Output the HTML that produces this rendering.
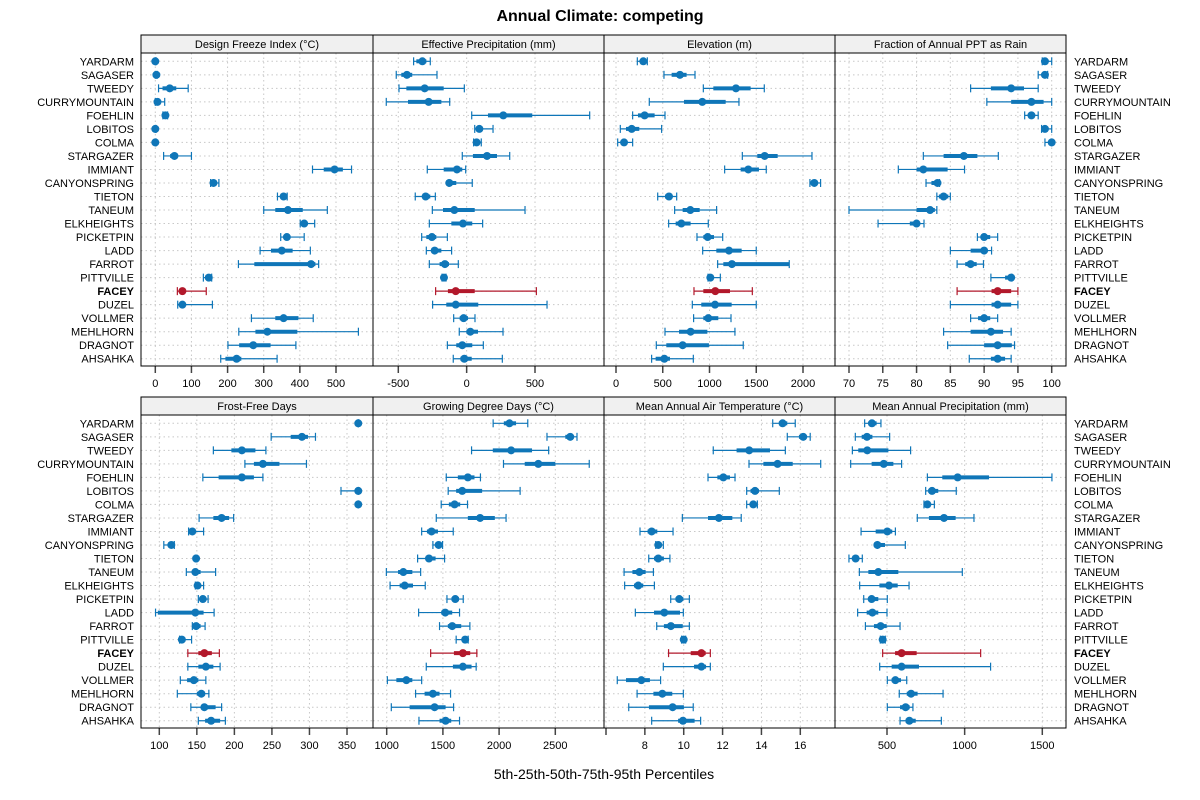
<!DOCTYPE html>
<html><head><meta charset="utf-8"><style>
html,body{margin:0;padding:0;background:#fff;}
svg{display:block;font-family:"Liberation Sans",sans-serif;}
</style></head><body>
<svg id="chart" width="1200" height="800" viewBox="0 0 1200 800" xmlns="http://www.w3.org/2000/svg">
<text x="600" y="21" text-anchor="middle" font-size="16" font-weight="bold">Annual Climate: competing</text>
<text x="604" y="779" text-anchor="middle" font-size="14">5th-25th-50th-75th-95th Percentiles</text>
</svg>
<script>
const categories = ["YARDARM","SAGASER","TWEEDY","CURRYMOUNTAIN","FOEHLIN","LOBITOS","COLMA","STARGAZER","IMMIANT","CANYONSPRING","TIETON","TANEUM","ELKHEIGHTS","PICKETPIN","LADD","FARROT","PITTVILLE","FACEY","DUZEL","VOLLMER","MEHLHORN","DRAGNOT","AHSAHKA"];
const highlight = "FACEY";
const freezeIndex = [[0,0,0,1,2],[0,1,3,4,5],[9,20,40,58,91],[0,3,6,11,26],[21,23,28,31,34],[0,0,0,1,2],[0,0,0,1,2],[23,41,53,60,100],[435,466,496,519,543],[153,157,161,168,176],[338,346,355,360,365],[300,332,367,408,476],[401,406,412,421,441],[347,355,364,373,412],[290,320,350,380,429],[230,274,431,443,452],[133,138,148,151,156],[61,66,75,83,141],[62,67,75,83,158],[266,332,355,396,437],[231,277,310,393,562],[201,232,271,319,389],[181,194,225,238,337]];
const effPrecip = [[-388,-368,-324,-295,-266],[-515,-478,-437,-398,-217],[-495,-441,-307,-168,-17],[-588,-429,-278,-185,-124],[37,156,268,480,900],[59,76,93,115,193],[51,61,73,85,107],[-32,46,149,222,315],[-288,-168,-71,-32,-7],[-129,-129,-127,-76,41],[-376,-320,-300,-266,-229],[-251,-173,-90,59,427],[-273,-112,-27,41,117],[-329,-295,-254,-222,-141],[-295,-259,-234,-185,-110],[-273,-198,-159,-129,-61],[-180,-173,-166,-159,-151],[-227,-137,-80,59,510],[-249,-149,-80,85,588],[-95,-51,-22,10,61],[-54,-2,27,83,266],[-141,-76,-32,41,122],[-98,-46,-17,37,261]];
const elevation = [[228,271,292,314,335],[513,595,684,755,845],[934,1041,1283,1440,1586],[356,727,923,1173,1315],[178,235,306,413,524],[46,107,168,249,488],[18,50,86,121,178],[1351,1511,1590,1729,2096],[1162,1333,1415,1529,1607],[2074,2099,2121,2138,2188],[446,524,567,602,649],[627,713,795,895,1076],[563,638,699,798,987],[866,934,980,1048,1141],[927,1073,1208,1344,1500],[1087,1148,1240,1850,1853],[984,998,1009,1019,1116],[834,934,1062,1219,1458],[816,912,1059,1237,1500],[830,934,987,1094,1230],[524,674,798,977,1272],[431,538,713,994,1361],[381,424,517,577,827]];
const fracRain = [[98.6,98.8,99.0,99.5,100],[98.0,98.6,99.0,99.2,99.4],[88.0,91.0,94.0,95.9,98.0],[90.4,94.0,97.0,98.8,100],[96.0,96.5,97.0,97.4,98.0],[98.5,98.7,99.0,99.5,100],[99.0,99.5,100,100,100],[81.0,84.0,87.0,89.0,92.1],[77.3,80.0,81.0,84.6,87.1],[81.4,82.2,83.1,83.3,83.4],[83.0,83.3,84.0,84.7,85.0],[70,80,82,82.7,83.0],[74.3,79.0,80.0,80.3,81.1],[89.0,89.6,90.0,90.9,92.0],[85.0,88.0,90.0,90.4,91.1],[86.0,87.2,88.0,88.9,89.9],[91.0,93.1,94.0,94.1,94.1],[86.0,91.1,92.0,94.0,95.0],[85.0,91.1,92.0,94.0,95.0],[88.0,89.1,90.0,90.9,92.0],[84.0,88.0,91.0,92.8,94.0],[84.6,90.0,92.0,94.1,94.5],[87.8,91.0,92.0,93.1,94.0]];
const frostFree = [[365,365,365,365,365],[249,275,290,298,308],[172,196,210,228,242],[214,226,238,260,296],[158,179,210,226,238],[342,361,365,365,365],[365,365,365,365,365],[153,172,183,193,199],[139,141,144,148,159],[106,112,116,118,120],[148,148,149,149,150],[136,144,148,155,175],[148,149,151,154,159],[152,155,158,161,165],[95,98,148,159,173],[144,146,149,155,161],[127,128,130,135,143],[138,152,160,170,180],[138,152,162,172,181],[128,137,146,152,162],[124,150,156,161,166],[142,157,160,175,183],[152,161,169,181,188]];
const growDegDays = [[1947,2042,2092,2151,2255],[2426,2589,2633,2660,2693],[1755,1944,2107,2293,2441],[2039,2228,2349,2500,2802],[1530,1633,1722,1781,1834],[1547,1618,1672,1849,2187],[1485,1553,1604,1654,1719],[1441,1722,1831,1962,2062],[1311,1358,1399,1456,1592],[1411,1441,1462,1479,1497],[1275,1352,1376,1435,1515],[997,1101,1148,1228,1302],[1030,1115,1160,1234,1343],[1536,1577,1610,1642,1681],[1284,1485,1521,1583,1648],[1470,1544,1583,1663,1740],[1618,1684,1698,1716,1725],[1391,1598,1678,1743,1802],[1352,1589,1678,1755,1796],[1006,1086,1175,1228,1311],[1257,1337,1411,1470,1568],[1041,1204,1426,1524,1595],[1287,1470,1524,1574,1648]];
const meanTemp = [[14.58,14.90,15.09,15.33,15.74],[15.33,15.93,16.15,16.31,16.51],[11.52,12.72,13.37,14.44,15.23],[13.36,14.10,14.83,15.61,17.05],[11.25,11.73,12.04,12.38,12.64],[13.24,13.44,13.67,13.87,14.92],[13.24,13.44,13.58,13.70,13.79],[9.93,11.25,11.81,12.50,12.96],[7.75,8.14,8.35,8.64,9.45],[8.56,8.61,8.69,8.81,8.95],[8.20,8.47,8.69,8.98,9.29],[6.93,7.36,7.72,8.04,8.44],[6.96,7.44,7.66,7.92,8.49],[9.33,9.58,9.77,9.98,10.29],[7.51,8.47,9.00,9.81,9.98],[8.61,8.98,9.34,9.95,10.29],[9.89,9.95,10.00,10.05,10.10],[9.22,10.36,10.91,11.13,11.37],[8.95,10.53,10.91,11.15,11.37],[6.58,7.03,7.82,8.26,8.81],[7.60,8.44,8.90,9.41,9.98],[7.17,8.21,9.43,10.01,10.49],[8.35,9.71,9.96,10.56,10.87]];
const meanPrecip = [[356,380,403,433,461],[296,337,371,406,517],[277,315,373,509,652],[266,401,479,541,594],[760,856,955,1157,1562],[749,766,790,830,946],[738,749,760,777,805],[695,770,867,942,1060],[333,427,502,534,554],[438,438,438,487,618],[255,283,298,320,341],[322,380,444,573,985],[324,451,513,569,642],[350,380,401,444,502],[311,369,406,444,500],[361,416,459,498,584],[457,466,472,483,489],[472,552,594,691,1103],[453,530,594,706,1167],[502,530,554,590,627],[579,627,655,697,861],[502,584,620,646,667],[584,620,644,685,850]];
const ticksFreeze = [0,100,200,300,400,500];
const ticksEff = [-500,0,500];
const ticksElev = [0,500,1000,1500,2000];
const ticksFrac = [70,75,80,85,90,95,100];
const ticksFrost = [100,150,200,250,300,350];
const ticksGdd = [1000,1500,2000,2500];
const ticksTemp = [6,8,10,12,14,16];
const tickLabelsTemp = ["","8","10","12","14","16"];
const ticksPrecip = [500,1000,1500];

const NS="http://www.w3.org/2000/svg";
const svg=document.getElementById('chart');
function mk(tag,attrs,parent){const e=document.createElementNS(NS,tag);for(const k in attrs)e.setAttribute(k,attrs[k]);(parent||svg).appendChild(e);return e;}
function linScale(v0,p0,v1,p1){return v=>p0+(v-v0)*(p1-p0)/(v1-v0);}

const panels=[
 {title:"Design Freeze Index (°C)",data:freezeIndex,ticks:ticksFreeze,scale:linScale(0,155.3,500,336),col:0,row:0},
 {title:"Effective Precipitation (mm)",data:effPrecip,ticks:ticksEff,scale:linScale(-500,398.3,500,535),col:1,row:0},
 {title:"Elevation (m)",data:elevation,ticks:ticksElev,scale:linScale(0,616,2000,803),col:2,row:0},
 {title:"Fraction of Annual PPT as Rain",data:fracRain,ticks:ticksFrac,scale:linScale(70,849,100,1051.7),col:3,row:0},
 {title:"Frost-Free Days",data:frostFree,ticks:ticksFrost,scale:linScale(100,159.3,350,347),col:0,row:1},
 {title:"Growing Degree Days (°C)",data:growDegDays,ticks:ticksGdd,scale:linScale(1000,386.7,2500,555.3),col:1,row:1},
 {title:"Mean Annual Air Temperature (°C)",data:meanTemp,ticks:ticksTemp,labels:tickLabelsTemp,scale:linScale(6,606,16,800.3),col:2,row:1},
 {title:"Mean Annual Precipitation (mm)",data:meanPrecip,ticks:ticksPrecip,scale:linScale(500,887,1500,1042.3),col:3,row:1}
];
const colX=[141,373,604,835,1066];
const rowTop=[53,415], stripTop=[35,397], plotBottom=[366,728];
const firstRowY=[61.3,423.3], rowStep=13.52;

panels.forEach((p,pi)=>{
  const x0=colX[p.col], x1=colX[p.col+1], yt=rowTop[p.row], yb=plotBottom[p.row];
  const g=mk('g',{});
  
  
  const strip=mk('rect',{x:x0,y:stripTop[p.row],width:x1-x0,height:yt-stripTop[p.row],fill:'#f0f0f0',stroke:'#000','stroke-width':1},g);
  
  
  const st=mk('text',{x:(x0+x1)/2,y:stripTop[p.row]+13,'text-anchor':'middle','font-size':11},g);
  st.textContent=p.title;
  
  
  // grid
  categories.forEach((c,i)=>{
    const y=firstRowY[p.row]+i*rowStep;
    const gl=mk('line',{x1:x0,x2:x1,y1:y,y2:y,stroke:'#c8c8c8','stroke-dasharray':'1.5,3','stroke-width':1},g);
    
    
  });
  p.ticks.forEach((t,ti)=>{
    const x=p.scale(t);
    const vl=mk('line',{x1:x,x2:x,y1:yt,y2:yb,stroke:'#c8c8c8','stroke-dasharray':'1.5,3','stroke-width':1},g);
    
    
    const tk=mk('line',{x1:x,x2:x,y1:yb,y2:yb+7,stroke:'#444','stroke-width':1.5},g);
    
    
    const tl=mk('text',{x:x,y:yb+21,'text-anchor':'middle','font-size':11},g);
    tl.textContent=p.labels?p.labels[ti]:String(t);
    
    
  });
  // marks
  p.data.forEach((d,i)=>{
    const y=firstRowY[p.row]+i*rowStep;
    const col=categories[i]===highlight?'#b2182b':'#0f76b8';
    const m=mk('g',{},g);
    
    
    const a=p.scale(d[0]),b=p.scale(d[1]),c=p.scale(d[2]),e=p.scale(d[3]),f=p.scale(d[4]);
    const l1=mk('line',{x1:a,x2:f,y1:y,y2:y,stroke:col,'stroke-width':1.2},m);
    
    
    [a,f].forEach(xx=>{
      const cp=mk('line',{x1:xx,x2:xx,y1:y-4,y2:y+4,stroke:col,'stroke-width':1.2},m);
      
      
    });
    const l2=mk('line',{x1:b,x2:e,y1:y,y2:y,stroke:col,'stroke-width':4},m);
    
    
    const dot=mk('circle',{cx:c,cy:y,r:4,fill:col},m);
    
    
  });
  const fr=mk('rect',{x:x0,y:yt,width:x1-x0,height:yb-yt,fill:'none',stroke:'#000','stroke-width':1},g);
  
  
});
// y labels
[0,1].forEach(r=>{
  categories.forEach((c,i)=>{
    const y=firstRowY[r]+i*rowStep+4;
    const bold=c===highlight?'bold':'normal';
    const lt=mk('text',{x:134,y:y,'text-anchor':'end','font-size':11,'font-weight':bold});
    lt.textContent=c;
    
    
    const rt=mk('text',{x:1074,y:y,'text-anchor':'start','font-size':11,'font-weight':bold});
    rt.textContent=c;
    
    
  });
});
</script>
</body></html>
